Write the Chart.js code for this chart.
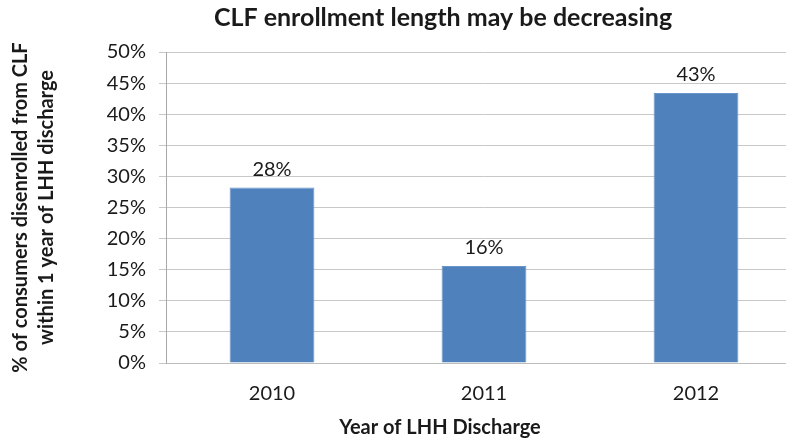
<!DOCTYPE html>
<html>
<head>
<meta charset="utf-8">
<script src="https://cdn.jsdelivr.net/npm/chart.js@4.4.1/dist/chart.umd.min.js"></script>
<style>
html,body{margin:0;padding:0;overflow:hidden;background:#ffffff;}
#wrap{position:relative;width:806px;height:438px;}
</style>
</head>
<body>
<div id="wrap"><canvas id="c" width="806" height="438"></canvas></div>
<script>
// ---- data ----
const categories = ['2010', '2011', '2012'];
const values = [28.2, 15.6, 43.4];
const valueLabels = ['28%', '16%', '43%'];
const yTickValues = [0, 5, 10, 15, 20, 25, 30, 35, 40, 45, 50];
const chartTitle = 'CLF enrollment length may be decreasing';
const xAxisTitle = 'Year of LHH Discharge';
const yAxisTitle = ['% of consumers disenrolled from CLF', 'within 1 year of LHH discharge'];

const FONT = 'Lato, "Open Sans", sans-serif';
const TEXT = '#1a1a1a';

const extraText = {
  id: 'extraText',
  afterDraw(chart) {
    const ctx = chart.ctx;
    const meta = chart.getDatasetMeta(0);
    ctx.save();
    ctx.fillStyle = TEXT;
    // value labels above the bars
    ctx.font = '20px ' + FONT;
    ctx.textAlign = 'center';
    ctx.textBaseline = 'alphabetic';
    meta.data.forEach((bar, i) => {
      ctx.fillText(valueLabels[i], bar.x, bar.y - 12);
    });
    // chart title
    ctx.font = 'bold 25px ' + FONT;
    ctx.textBaseline = 'middle';
    ctx.fillText(chartTitle, 443, 18);
    // x-axis title
    ctx.font = 'bold 20px ' + FONT;
    ctx.fillText(xAxisTitle, 440, 428);
    ctx.restore();
  }
};

new Chart(document.getElementById('c'), {
  type: 'bar',
  data: {
    labels: categories,
    datasets: [{
      data: values,
      backgroundColor: '#4F81BD',
      borderColor: '#6B94C8',
      borderWidth: 1,
      barPercentage: 0.4,
      categoryPercentage: 1.0
    }]
  },
  options: {
    responsive: false,
    devicePixelRatio: 1,
    animation: false,
    layout: { padding: { top: 52, right: 4, bottom: 21, left: 0 } },
    plugins: {
      legend: { display: false },
      title: { display: false },
      tooltip: { enabled: false }
    },
    scales: {
      x: {
        grid: { display: false },
        border: { display: true, color: '#BDBDBD' },
        ticks: { color: TEXT, font: { family: FONT, size: 20 }, padding: 11 }
      },
      y: {
        min: 0,
        max: 50,
        afterBuildTicks(scale) { scale.ticks = yTickValues.map(v => ({ value: v })); },
        afterFit(scale) { scale.width = 166; },
        grid: { color: '#C8C8C8', tickLength: 7, lineWidth: 1 },
        border: { display: true, color: '#A8A8A8' },
        ticks: {
          color: TEXT,
          font: { family: FONT, size: 20 },
          padding: 13,
          callback: v => v + '%'
        },
        title: {
          display: true,
          text: yAxisTitle,
          color: TEXT,
          font: { family: FONT, size: 20, weight: 'bold', lineHeight: 1.3 },
          padding: { top: 8, bottom: 0 }
        }
      }
    }
  },
  plugins: [extraText]
});
</script>
</body>
</html>
